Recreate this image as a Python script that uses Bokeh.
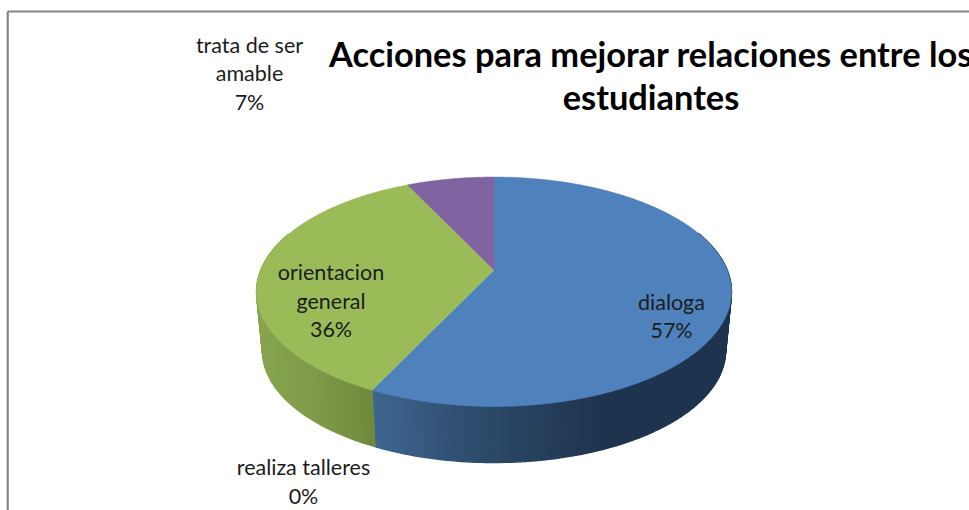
import math
from bokeh.plotting import figure
from bokeh.models import Range1d
from bokeh.core.properties import value
from bokeh.embed import file_html
from bokeh.resources import INLINE

# --- data ---
pie_order = ["dialoga", "orientacion general", "realiza talleres", "trata de ser amable"]
values = [57.14, 35.72, 0, 7.14]
title_lines = ["Acciones para mejorar relaciones entre los", "estudiantes"]
label_lines = [["dialoga"], ["orientacion", "general"], ["realiza talleres"], ["trata de ser", "amable"]]
top_colors = ["#4f81bd", "#9bbb59", "#f79646", "#8064a2"]
side_ramps = [
    [(372, "#3f668f"), (480, "#2d4a6b"), (600, "#1f344e"), (740, "#1f344e")],
    [(256, "#88a54f"), (320, "#7e9948"), (378, "#6e883b")],
]
label_x = [671, 330.5, 303, 249]
label_y0 = [301, 271.5, 466.5, 44]

# --- geometry of the tilted disc (page pixels) ---
W, H = 969, 510
CX, APEX_Y = 493.5, 269.5
K, A, B = 0.1895, 110.6, 233.2
ELL_CY, DEPTH_CY, RIM = 291.0, 350.0, 0.975


def top_pt(t):
    u, v = math.sin(t), math.cos(t)
    d = 1 + K * v
    return CX + B * u / d, APEX_Y - A * v / d


def low_pt(t):
    x, y = top_pt(t)
    return CX + (x - CX) * RIM, DEPTH_CY + (y - ELL_CY) * RIM


def hex2rgb(c):
    return tuple(int(c[i:i + 2], 16) for i in (1, 3, 5))


def ramp_color(ramp, x):
    if x <= ramp[0][0]:
        return ramp[0][1]
    for (x0, c0), (x1, c1) in zip(ramp, ramp[1:]):
        if x <= x1:
            f = (x - x0) / (x1 - x0)
            a, b = hex2rgb(c0), hex2rgb(c1)
            return "#%02x%02x%02x" % tuple(round(p + (q - p) * f) for p, q in zip(a, b))
    return ramp[-1][1]


p = figure(width=W, height=H, output_backend="svg", toolbar_location=None,
           x_range=Range1d(0, W), y_range=Range1d(H, 0),
           min_border=0, outline_line_color=None, background_fill_color="white",
           border_fill_color="white")
p.axis.visible = False
p.grid.visible = False

# chart-area border (top and left, the rest lies outside the crop)
p.line([7.2, 7.2], [H, 11], line_color="#868686", line_width=2.2)
p.line([7.2, W], [11, 11], line_color="#868686", line_width=2.2)

# slice angles
total = sum(values)
angles = []
acc = 0
for v in values:
    angles.append((acc / total * 2 * math.pi, (acc + v) / total * 2 * math.pi))
    acc += v

# sides
xs, ys, cs = [], [], []
for i, ramp in enumerate(side_ramps):
    a0, a1 = angles[i]
    n = max(2, int((a1 - a0) / math.radians(1.0)))
    for j in range(n):
        t0 = a0 + (a1 - a0) * j / n
        t1 = a0 + (a1 - a0) * (j + 1) / n
        if math.cos((t0 + t1) / 2) > 0.35:
            continue
        P = [top_pt(t0), top_pt(t1), low_pt(t1), low_pt(t0)]
        xs.append([q[0] for q in P])
        ys.append([q[1] for q in P])
        cs.append(ramp_color(ramp, sum(q[0] for q in P) / 4))
p.patches(xs, ys, fill_color=cs, line_color=cs, line_width=1.3)

# top faces
for (a0, a1), col in zip(angles, top_colors):
    if a1 <= a0:
        continue
    n = max(2, int((a1 - a0) / math.radians(1.0)))
    P = [(CX, APEX_Y)] + [top_pt(a0 + (a1 - a0) * j / n) for j in range(n + 1)]
    p.patch([q[0] for q in P], [q[1] for q in P], fill_color=col, line_color=col, line_width=0.5)

# data labels
LINE = 28.5
tx, ty, tt = [], [], []
for name_lines, v, x, y0 in zip(label_lines, values, label_x, label_y0):
    lines = name_lines + [f"{round(v)}%"]
    for k, s in enumerate(lines):
        tx.append(x)
        ty.append(y0 + k * LINE)
        tt.append(s)
p.text(tx, ty, text=tt, text_font=value("Lato"), text_font_size="21.5px",
       text_color="#1c1c1c", text_align="center", text_baseline="middle")

# title
p.text([650.5] * 2, [53, 96], text=title_lines, text_font=value("Lato"),
       text_font_size="34.4px", text_font_style="bold", text_color="#000000",
       text_align="center", text_baseline="middle")

open("out.html", "w").write(file_html(p, INLINE))
